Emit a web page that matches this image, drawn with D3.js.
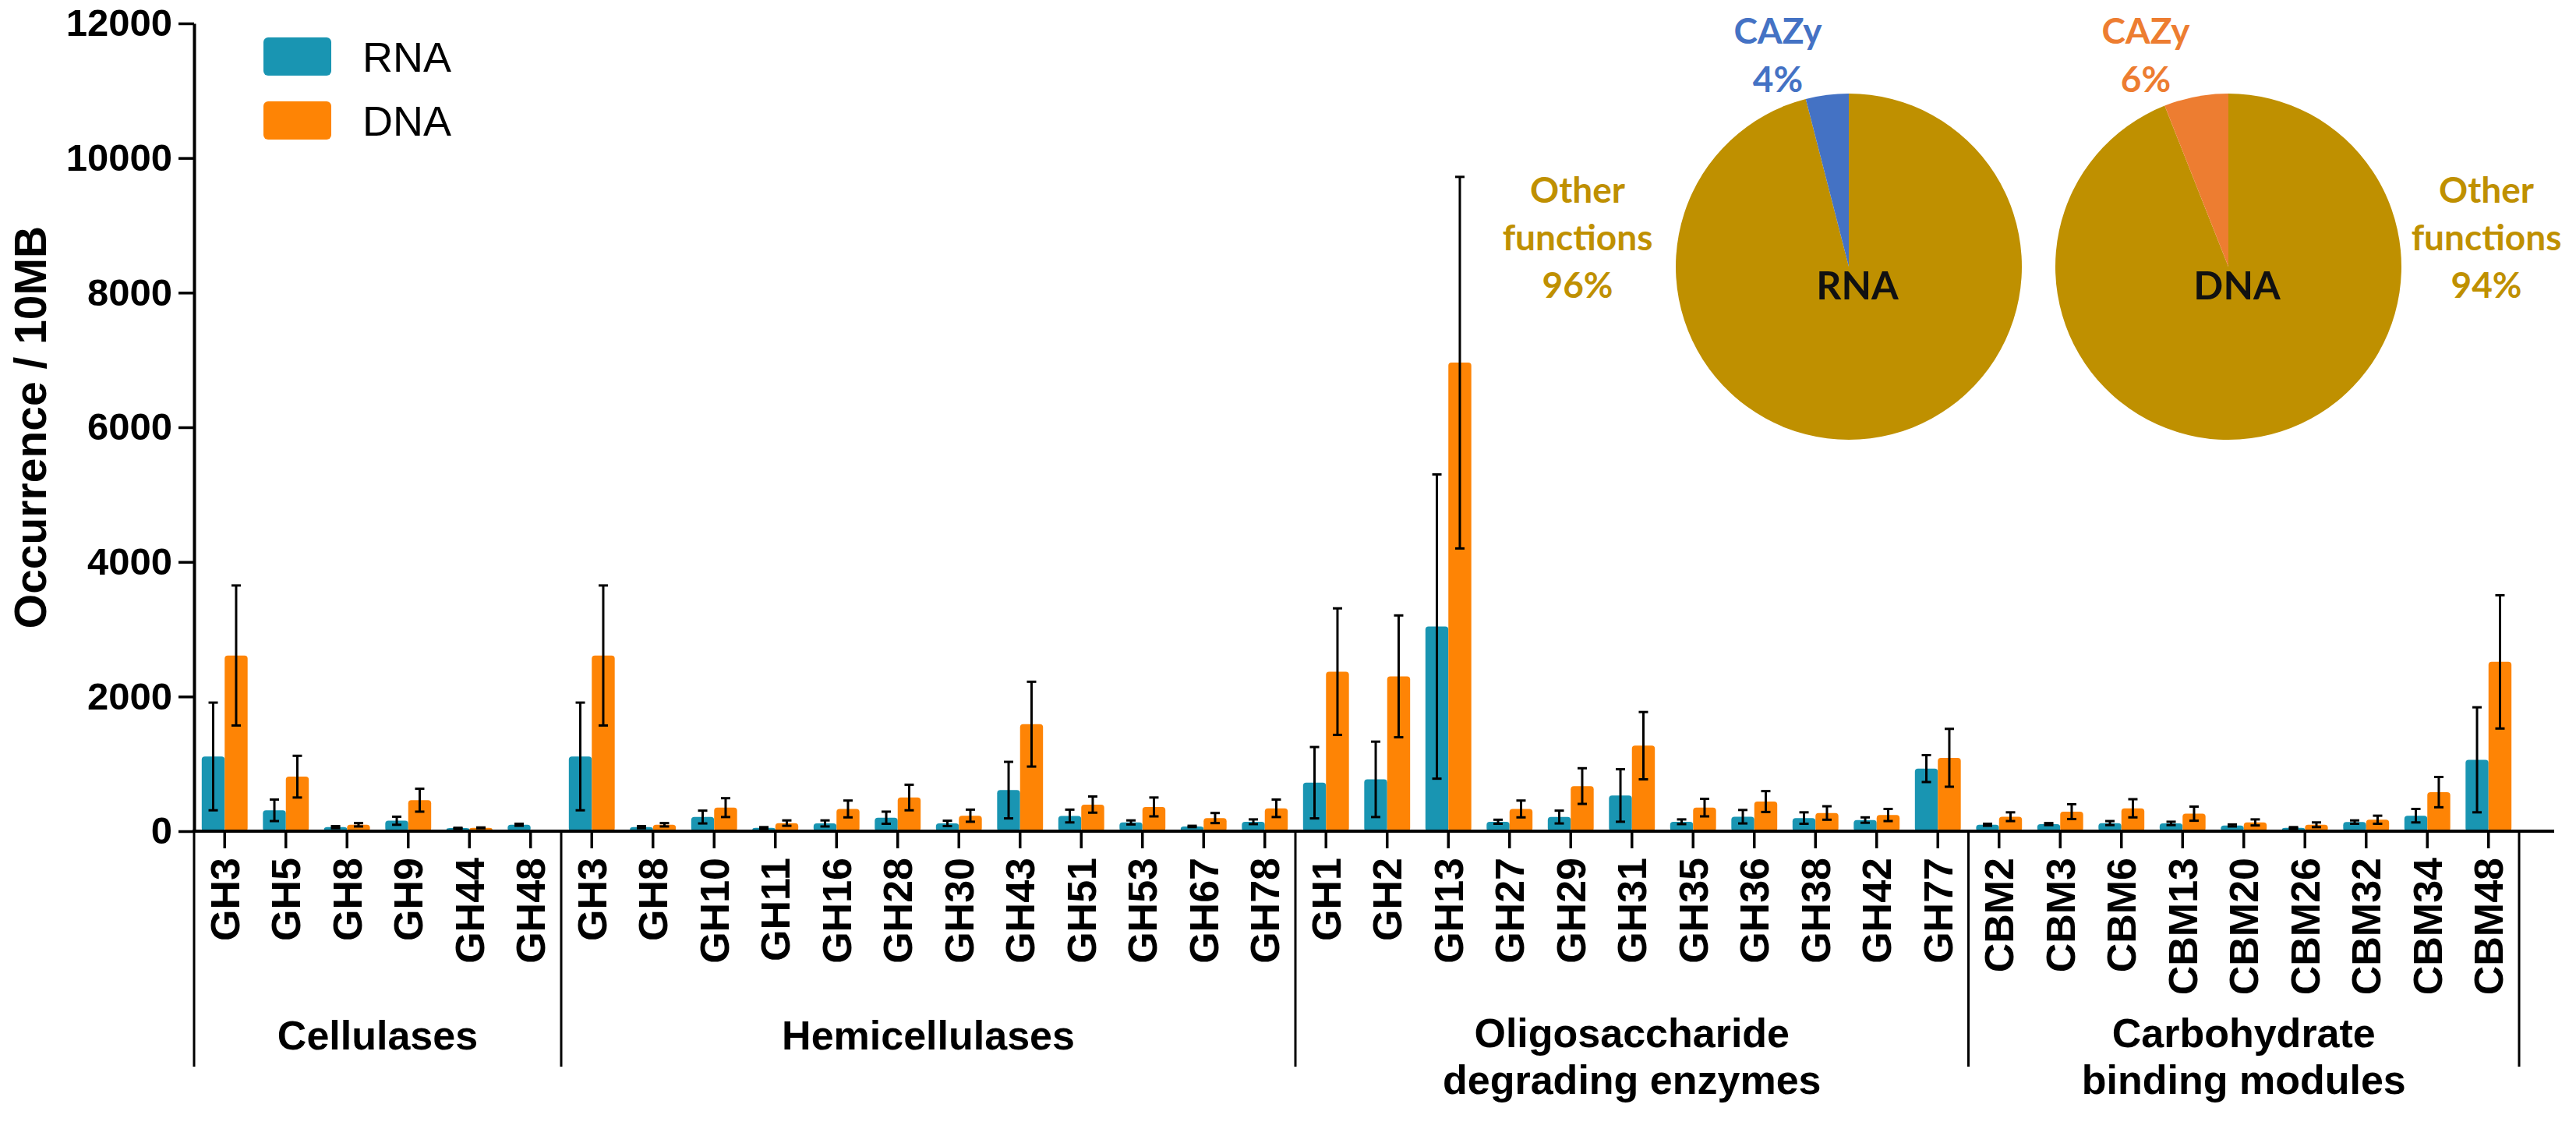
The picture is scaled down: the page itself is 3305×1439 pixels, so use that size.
<!DOCTYPE html>
<html>
<head>
<meta charset="utf-8">
<script src="https://cdn.jsdelivr.net/npm/d3@7"></script>
<style>
  body { margin: 0; background: #fff; }
  svg { display: block; }
</style>
</head>
<body>
<div id="chart"></div>
<script>
'use strict';

// categories along the x axis, in drawing order
const categories = [
    "GH3", "GH5", "GH8", "GH9", "GH44", "GH48",
    "GH3", "GH8", "GH10", "GH11", "GH16", "GH28", "GH30", "GH43", "GH51", "GH53", "GH67", "GH78",
    "GH1", "GH2", "GH13", "GH27", "GH29", "GH31", "GH35", "GH36", "GH38", "GH42", "GH77",
    "CBM2", "CBM3", "CBM6", "CBM13", "CBM20", "CBM26", "CBM32", "CBM34", "CBM48"
];

// group labels and how many categories each one covers
const groupNames = [
    ["Cellulases"],
    ["Hemicellulases"],
    ["Oligosaccharide", "degrading enzymes"],
    ["Carbohydrate", "binding modules"]
];
const groupSizes = [6, 12, 11, 9];

// mean occurrence / 10MB and error (sd)
const rnaMean = [
    1110, 310, 60, 155, 45, 95,
    1110, 60, 210, 50, 115, 200, 115, 610, 225, 130, 70, 140,
    720, 770, 3040, 140, 210, 530, 140, 215, 195, 165, 930,
    95, 105, 120, 115, 85, 50, 135, 230, 1060
];
const rnaErr = [
    800, 160, 15, 60, 5, 15,
    800, 15, 95, 10, 45, 90, 40, 420, 95, 30, 10, 35,
    530, 560, 2260, 30, 95, 390, 35, 100, 85, 40, 200,
    15, 15, 30, 25, 15, 10, 25, 100, 780
];
const dnaMean = [
    2610, 810, 95, 460, 50, 0,
    2610, 95, 350, 120, 330, 500, 230, 1590, 395, 360, 195, 340,
    2370, 2300, 6960, 330, 670, 1270, 350, 440, 270, 240, 1090,
    215, 290, 340, 260, 130, 95, 170, 580, 2515
];
const dnaErr = [
    1040, 310, 25, 170, 5, 0,
    1040, 25, 140, 40, 125, 190, 90, 630, 120, 140, 75, 130,
    940, 905, 2760, 125, 265, 500, 130, 155, 100, 90, 430,
    65, 110, 135, 105, 45, 35, 60, 225, 990
];

const yTicks = [0, 2000, 4000, 6000, 8000, 10000, 12000];

// pie insets: [other functions, CAZy] in percent
const pieNames = ["RNA", "DNA"];
const pieOther = [96, 94];
const pieCazy = [4, 6];

const seriesNames = ["RNA", "DNA"];
const seriesColors = ["#1995B2", "#FE8405"];
const cazyColors = ["#4472C4", "#ED7D31"];
const otherColor = "#BF9000";

const W = 3305, H = 1439;
const svg = d3.select("#chart").append("svg")
    .attr("width", W)
    .attr("height", H);

const arialBold = "'Liberation Sans', Arial, sans-serif";

// scales
const x = d3.scaleBand()
    .domain(d3.range(categories.length))
    .range([249, 3232])
    .paddingInner(0.25)
    .paddingOuter(0.125);

const xSeries = d3.scaleBand()
    .domain([0, 1])
    .range([0, x.bandwidth()]);

const y = d3.scaleLinear()
    .domain([0, 12000])
    .range([1066, 30]);

const baseY = y(0);

// y axis
const yAxis = svg.append("g")
    .attr("transform", `translate(${x.range()[0]},0)`)
    .call(d3.axisLeft(y).tickValues(yTicks).tickFormat(d3.format("d"))
        .tickSize(20).tickSizeOuter(0).tickPadding(8));
yAxis.select(".domain").attr("stroke", "#000").attr("stroke-width", 4);
yAxis.selectAll(".tick line").attr("stroke", "#000").attr("stroke-width", 3.5);
yAxis.selectAll(".tick text")
    .attr("fill", "#000")
    .style("font-family", arialBold)
    .style("font-weight", "bold")
    .style("font-size", "49px");

// y axis title
svg.append("text")
    .attr("transform", `translate(59,${(y(0) + y(12000)) / 2}) rotate(-90)`)
    .attr("text-anchor", "middle")
    .style("font-family", arialBold)
    .style("font-weight", "bold")
    .style("font-size", "57px")
    .text("Occurrence / 10MB");

// bars
const barData = [];
categories.forEach((c, i) => {
    barData.push({ i, s: 0, v: rnaMean[i], e: rnaErr[i] });
    barData.push({ i, s: 1, v: dnaMean[i], e: dnaErr[i] });
});

svg.append("g").selectAll("rect")
    .data(barData.filter(d => d.v > 0))
    .enter()
    .append("rect")
    .attr("x", d => x(d.i) + xSeries(d.s))
    .attr("y", d => y(d.v))
    .attr("width", xSeries.bandwidth())
    .attr("height", d => baseY - y(d.v))
    .attr("rx", 4)
    .attr("fill", d => seriesColors[d.s]);

// error bars
const errG = svg.append("g")
    .attr("stroke", "#000")
    .attr("stroke-width", 3);
const errBars = errG.selectAll("g")
    .data(barData.filter(d => d.v > 0 && d.e > 0))
    .enter()
    .append("g")
    .attr("transform", d => `translate(${x(d.i) + xSeries(d.s) + xSeries.bandwidth() / 2},0)`);
errBars.append("line")
    .attr("y1", d => y(Math.max(0, d.v - d.e)))
    .attr("y2", d => y(d.v + d.e));
errBars.append("line")
    .attr("x1", -6).attr("x2", 6)
    .attr("y1", d => y(d.v + d.e))
    .attr("y2", d => y(d.v + d.e));
errBars.append("line")
    .attr("x1", -6).attr("x2", 6)
    .attr("y1", d => y(Math.max(0, d.v - d.e)))
    .attr("y2", d => y(Math.max(0, d.v - d.e)));

// x axis with rotated category labels
const xAxis = svg.append("g")
    .attr("transform", `translate(0,${baseY})`)
    .call(d3.axisBottom(x).tickSize(22).tickFormat(i => categories[i]));
xAxis.select(".domain").remove();
xAxis.selectAll(".tick line").attr("stroke", "#000").attr("stroke-width", 3.5);
xAxis.selectAll(".tick text")
    .attr("fill", "#000")
    .attr("x", -34)
    .attr("y", 0)
    .attr("dy", "0.36em")
    .attr("transform", "rotate(-90)")
    .attr("text-anchor", "end")
    .style("font-family", arialBold)
    .style("font-weight", "bold")
    .style("font-size", "52px");

// baseline
svg.append("line")
    .attr("x1", x.range()[0] - 2)
    .attr("x2", 3277)
    .attr("y1", baseY)
    .attr("y2", baseY)
    .attr("stroke", "#000")
    .attr("stroke-width", 4);

// group separators and group labels
const bounds = [0];
groupSizes.forEach(n => bounds.push(bounds[bounds.length - 1] + n));
const boundX = i => x.range()[0] + i * x.step();

svg.append("g").selectAll("line")
    .data(bounds)
    .enter()
    .append("line")
    .attr("x1", d => boundX(d))
    .attr("x2", d => boundX(d))
    .attr("y1", baseY)
    .attr("y2", 1368)
    .attr("stroke", "#000")
    .attr("stroke-width", 3);

const groupLabels = svg.append("g").selectAll("text")
    .data(groupNames)
    .enter()
    .append("text")
    .attr("x", (d, g) => (boundX(bounds[g]) + boundX(bounds[g + 1])) / 2)
    .attr("y", d => d.length > 1 ? 1343 : 1346)
    .attr("text-anchor", "middle")
    .style("font-family", arialBold)
    .style("font-weight", "bold")
    .style("font-size", "52px");
groupLabels.selectAll("tspan")
    .data((d, g) => d.map(t => ({ t, g })))
    .enter()
    .append("tspan")
    .attr("x", d => (boundX(bounds[d.g]) + boundX(bounds[d.g + 1])) / 2)
    .attr("dy", (d, k) => k === 0 ? 0 : 60)
    .text(d => d.t);

// legend
const legend = svg.append("g").selectAll("g")
    .data(seriesNames)
    .enter()
    .append("g")
    .attr("transform", (d, i) => `translate(338,${48 + i * 82})`);
legend.append("rect")
    .attr("width", 87)
    .attr("height", 49)
    .attr("rx", 6)
    .attr("fill", (d, i) => seriesColors[i]);
legend.append("text")
    .attr("x", 127)
    .attr("y", 44)
    .style("font-family", "'Liberation Sans', Arial, sans-serif")
    .style("font-size", "54px")
    .text(d => d);

// pie insets
const pieCx = [2372, 2859];
const pieCy = 342;
const pieR = 222;
const pie = d3.pie().sort(null).value(d => d);
const arc = d3.arc().innerRadius(0).outerRadius(pieR);
const calibri = "Lato, 'Open Sans', sans-serif";

pieNames.forEach((name, p) => {
    const g = svg.append("g").attr("transform", `translate(${pieCx[p]},${pieCy})`);
    g.selectAll("path")
        .data(pie([pieOther[p], pieCazy[p]]))
        .enter()
        .append("path")
        .attr("d", arc)
        .attr("fill", (d, k) => k === 0 ? otherColor : cazyColors[p]);
    g.append("text")
        .attr("x", 11)
        .attr("y", 42)
        .attr("text-anchor", "middle")
        .style("font-family", calibri)
        .style("font-weight", "bold")
        .style("font-size", "50px")
        .attr("fill", "#111")
        .text(name);
});

// pie labels
const otherX = [2024, 3190];
const cazyX = [2281, 2753];
pieNames.forEach((name, p) => {
    const t = svg.append("text")
        .attr("text-anchor", "middle")
        .attr("fill", otherColor)
        .style("font-family", calibri)
        .style("font-weight", "bold")
        .style("font-size", "46px");
    ["Other", "functions", pieOther[p] + "%"].forEach((s, k) => {
        t.append("tspan").attr("x", otherX[p]).attr("y", 260 + k * 61).text(s);
    });
    const c = svg.append("text")
        .attr("text-anchor", "middle")
        .attr("fill", cazyColors[p])
        .style("font-family", calibri)
        .style("font-weight", "bold")
        .style("font-size", "46px");
    ["CAZy", pieCazy[p] + "%"].forEach((s, k) => {
        c.append("tspan").attr("x", cazyX[p]).attr("y", 56 + k * 62).text(s);
    });
});
</script>
</body>
</html>
